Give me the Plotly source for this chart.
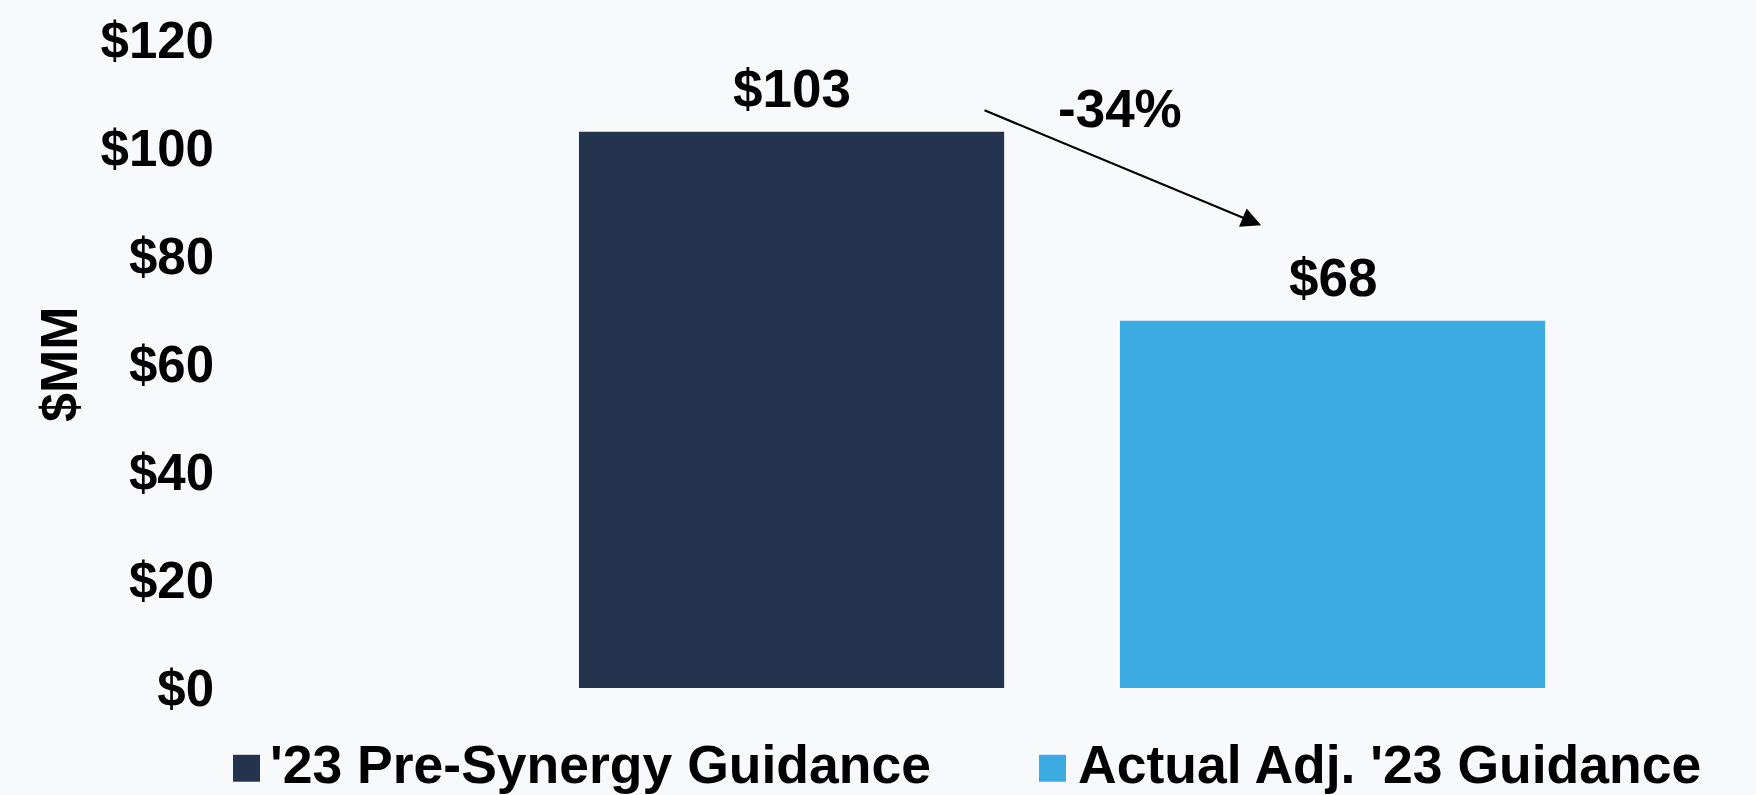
import plotly.graph_objects as go

# ---- data ----
categories = ["'23 Pre-Synergy Guidance", "Actual Adj. '23 Guidance"]
values = [103, 68]
colors = ["#24344F", "#3BABE2"]
tick_vals = [0, 20, 40, 60, 80, 100, 120]
tick_text = ["$0", "$20", "$40", "$60", "$80", "$100", "$120"]
y_title = "$MM"

FONT = "Arial, Liberation Sans, sans-serif"
BG = "#F8F9FB"

W, H = 1756, 795
L, R, T, B = 223, 153, 38, 107
PW = W - L - R
PH = H - T - B


def px(x):
    return (x - L) / PW


def py(y):
    return (H - B - y) / PH


fig = go.Figure()
for i, (cat, val, col) in enumerate(zip(categories, values, colors)):
    fig.add_trace(go.Bar(
        x=[i], y=[val], name=cat, marker=dict(color=col, line=dict(width=0)),
        width=0.786, showlegend=False, hoverinfo="skip",
    ))

annotations = []
# value labels
for i, val in enumerate(values):
    annotations.append(dict(
        x=i, y=val, xref="x", yref="y", text=f"${val}", showarrow=False,
        yanchor="bottom", yshift=12,
        font=dict(family=FONT, size=53, color="#000000", weight="bold"),
    ))

# change arrow
pct = round((values[1] - values[0]) / values[0] * 100)
annotations.append(dict(
    x=0.868, y=85.7, ax=0.354, ay=107.1, xref="x", yref="y", axref="x", ayref="y",
    text="", showarrow=True, arrowhead=2, arrowsize=1.8, arrowwidth=2.2, arrowcolor="#000000",
))
annotations.append(dict(
    x=0.607, y=107.3, xref="x", yref="y", text=f"{pct}%", showarrow=False,
    font=dict(family=FONT, size=53, color="#000000", weight="bold"),
))

# y-axis title
annotations.append(dict(
    x=px(59), y=0.5, xref="paper", yref="paper", text=y_title, showarrow=False,
    textangle=-90, xanchor="center", yanchor="middle",
    font=dict(family=FONT, size=52, color="#000000", weight="bold"),
))

# custom legend
shapes = []
legend_sq = [(233, 260), (1039, 1066)]
legend_tx = [268, 1076]
for (x0, x1), tx, cat, col in zip(legend_sq, legend_tx, categories, colors):
    shapes.append(dict(type="rect", xref="paper", yref="paper",
                       x0=px(x0), x1=px(x1), y0=py(782), y1=py(755),
                       fillcolor=col, line=dict(width=0)))
    annotations.append(dict(
        x=px(tx), y=py(765), xref="paper", yref="paper", text=cat, showarrow=False,
        xanchor="left", yanchor="middle",
        font=dict(family=FONT, size=53.5, color="#000000", weight="bold"),
    ))

fig.update_layout(
    width=W, height=H,
    margin=dict(l=L, r=R, t=T, b=B, pad=0),
    paper_bgcolor=BG, plot_bgcolor=BG,
    barmode="overlay",
    xaxis=dict(range=[-1.051, 1.5], showticklabels=False, showgrid=False,
               zeroline=False, showline=False, ticks=""),
    yaxis=dict(range=[0, 120], tickvals=tick_vals, ticktext=tick_text,
               showgrid=False, zeroline=False, showline=False, ticks="",
               ticklabelstandoff=8,
               tickfont=dict(family=FONT, size=51, color="#000000", weight="bold")),
    annotations=annotations,
    shapes=shapes,
    showlegend=False,
)

fig.write_html(
    "out.html",
    config={"displayModeBar": False},
    post_script="document.body.style.margin='0';document.body.style.padding='0';"
                "document.body.style.overflow='hidden';",
)
